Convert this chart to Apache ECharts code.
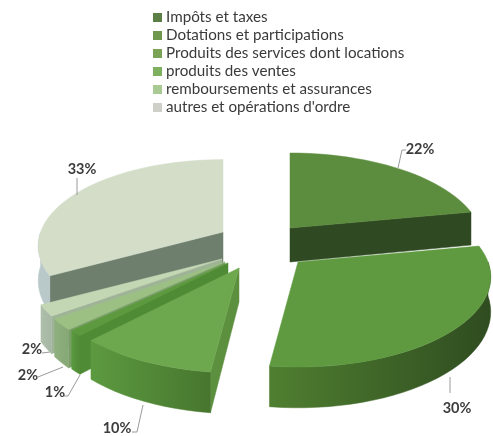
<!DOCTYPE html>
<html><head><meta charset="utf-8">
<style>html,body{margin:0;padding:0;background:#fff}#c{width:493px;height:436px;filter:blur(0.7px)}</style>
<script src="https://cdn.jsdelivr.net/npm/echarts@6/dist/echarts.min.js"></script>
</head><body><div id="c"></div>
<script>
// data
const values = [22, 30, 10, 1, 2, 2, 33];
const sliceNames = ["Impôts et taxes","Dotations et participations","Produits des services dont locations","produits des ventes","remboursements et assurances","part non légendée","autres et opérations d'ordre"];
const legendNames = ["Impôts et taxes","Dotations et participations","Produits des services dont locations","produits des ventes","remboursements et assurances","autres et opérations d'ordre"];
// styles
const legendColors = ["#5b7f45","#6f984f","#7aa356","#7fb060","#a9cb93","#c2d6b2","#cfcfc9"];
const topColors = ["#5c8c3d","#5f9a40","#6ea84e","#5d9a3f","#9cc084","#c3d7b4","#d3ddc8"];
const wallColors = ["#2f4a22","#3a5c26","#5c8f3e","#4f8a35","#7a9e68","#9fb497","#6f7f6e"];
const rimFrom = ["#2f4a22","#4f7f30","#5c9a40","#5a9a40","#8fb07e","#aebfaa","#b9c8c9"];
const rimTo = ["#2f4a22","#2f4c20","#47762e","#4f8a35","#86a875","#a6b8a4","#b9c8c9"];
const drawOrder = [6,0,5,4,3,2,1];
const explode = [[32,-20],[40,14],[-19,20],[-30,15],[-33,14],[-36,11],[-35,-16]];
const radiusScale = [1,1,1,1,1,1,0.96];
const labelAt = [[420,149],[457,408],[117,428],[55,392],[28,375],[32,349],[82,169]];
const leaders = [
 [[398,168],[402,150],[406,150]],
 [[450,377],[450,393]],
 [[143,405],[137,432],[132,432]],
 [[80,375],[68,396],[64,396]],
 [[63,367],[38,377]],
 [[50,352],[42,353]],
 [[77,195],[77,178]]
];
const center = [258, 248], Rx = 190, Ay = 87.5, persp = 1/6, depth = 34;

function proj(apex, deg, r, drop){
  const a = deg*Math.PI/180, X = r*Math.sin(a), Y = -r*Math.cos(a), s = 1/(1-persp*Y);
  return [apex[0]+Rx*X*s, apex[1]+Ay*Y*s+(drop?depth*s:0)];
}
const total = values.reduce((a,b)=>a+b,0);
const toAngle = v => echarts.number.linearMap(v,[0,total],[0,360]);
let acc = 0;
const spans = values.map(v=>{const s=[toAngle(acc),toAngle(acc+v)];acc+=v;return s;});

function sliceItem(i){
  return function(params, api){
    const v = api.value(0);
    const a0 = spans[i][0], a1 = a0+toAngle(v), R = radiusScale[i];
    const apex = [center[0]+explode[i][0], center[1]+explode[i][1]];
    const kids = [];
    const poly = (pts,fill)=>kids.push({type:'polygon',shape:{points:pts},style:{fill:fill,stroke:fill,lineWidth:0.5}});
    const arc = (b0,b1,drop)=>{const n=Math.max(2,Math.ceil((b1-b0)/3)),p=[];for(let k=0;k<=n;k++)p.push(proj(apex,b0+(b1-b0)*k/n,R,drop));return p;};
    // radial walls
    if(Math.sin(a0*Math.PI/180)<0) poly([proj(apex,a0,0,false),proj(apex,a0,R,false),proj(apex,a0,R,true),proj(apex,a0,0,true)],wallColors[i]);
    if(Math.sin(a1*Math.PI/180)>0) poly([proj(apex,a1,0,false),proj(apex,a1,R,false),proj(apex,a1,R,true),proj(apex,a1,0,true)],wallColors[i]);
    // outer wall on the front half
    const b0=Math.max(a0,90), b1=Math.min(a1,270);
    if(b1>b0){
      const top=arc(b0,b1,false), bot=arc(b0,b1,true).reverse();
      const xs=top.concat(bot).map(p=>p[0]);
      const x0=Math.min(...xs), x1=Math.max(...xs);
      poly(top.concat(bot),{type:'linear',x:x0,y:0,x2:x1,y2:0,global:true,colorStops:[{offset:0,color:rimFrom[i]},{offset:1,color:rimTo[i]}]});
    }
    // top face
    poly([proj(apex,a0,0,false)].concat(arc(a0,a1,false)),topColors[i]);
    // label and leader
    kids.push({type:'polyline',shape:{points:leaders[i]},style:{stroke:'#9a9a9a',lineWidth:1,fill:null}});
    kids.push({type:'text',style:{x:labelAt[i][0],y:labelAt[i][1],text:v+'%',fill:'#3c3c3c',font:'bold 14.5px Lato',align:'center',verticalAlign:'middle'}});
    return {type:'group',children:kids};
  };
}

const chart = echarts.init(document.getElementById('c'),null,{renderer:'canvas'});
chart.setOption({
  animation:false,
  backgroundColor:'#fff',
  legend:{data:legendNames,orient:'vertical',left:148,top:5,icon:'rect',itemWidth:9,itemHeight:9,itemGap:3,selectedMode:false,
    textStyle:{fontFamily:'Lato',fontSize:15.2,color:'#3a3a3a',lineHeight:15,padding:[0,0,0,-1]}},
  series:values.map((v,i)=>({
    type:'custom',name:sliceNames[i],coordinateSystem:'none',data:[v],
    z:2+drawOrder.indexOf(i),silent:true,itemStyle:{color:legendColors[i]},renderItem:sliceItem(i)
  }))
});
</script></body></html>
